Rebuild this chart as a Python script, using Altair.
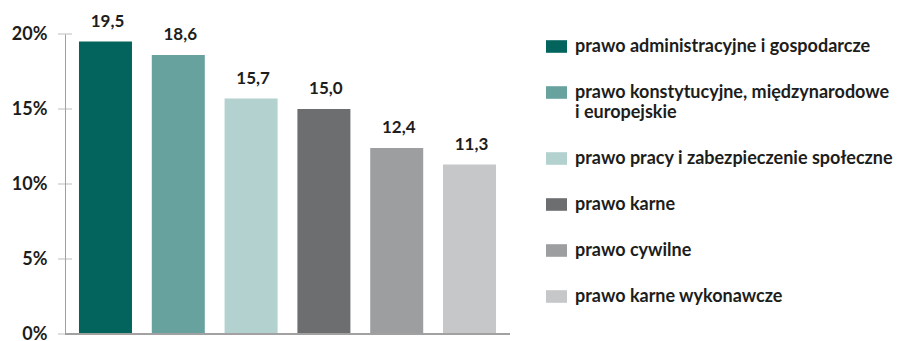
import altair as alt
import pandas as pd

categories = [
    "prawo administracyjne i gospodarcze",
    "prawo konstytucyjne, międzynarodowe i europejskie",
    "prawo pracy i zabezpieczenie społeczne",
    "prawo karne",
    "prawo cywilne",
    "prawo karne wykonawcze",
]
values = [19.5, 18.6, 15.7, 15.0, 12.4, 11.3]
value_labels = ["19,5", "18,6", "15,7", "15,0", "12,4", "11,3"]
colors = ["#02645D", "#67A29F", "#B3D1CF", "#6D6E70", "#9D9EA0", "#C6C7C9"]
y_ticks = [0, 5, 10, 15, 20]

df = pd.DataFrame({"kategoria": categories, "wartosc": values, "etykieta": value_labels})
ticks_df = pd.DataFrame({"t": y_ticks})

FONT = "Lato"
TXT = "#1d1d1b"
AXIS_GRAY = "#a0a0a0"

x_enc = alt.X(
    "kategoria:N",
    sort=categories,
    axis=None,
    scale=alt.Scale(paddingInner=0.272, paddingOuter=0.192),
)
y_scale = alt.Scale(domain=[0, 20], nice=False)

bars = alt.Chart(df).mark_bar().encode(
    x=x_enc,
    y=alt.Y(
        "wartosc:Q",
        scale=y_scale,
        axis=alt.Axis(
            values=y_ticks,
            labelExpr="datum.value + '%'",
            title=None,
            grid=False,
            domainColor=AXIS_GRAY,
            ticks=False,
            labelPadding=18,
            labelFont=FONT,
            labelFontWeight="bold",
            labelFontSize=18,
            labelColor=TXT,
        ),
    ),
    color=alt.Color(
        "kategoria:N",
        sort=categories,
        scale=alt.Scale(domain=categories, range=colors),
        legend=alt.Legend(
            title=None,
            orient="none",
            legendX=481,
            legendY=2,
            padding=0,
            symbolType="M-1,-0.6H1V0.6H-1Z",
            symbolSize=441,
            symbolStrokeWidth=0,
            labelOffset=8,
            labelFont=FONT,
            labelFontWeight="bold",
            labelFontSize=18,
            labelColor=TXT,
            labelLimit=400,
            rowPadding=26,
            labelExpr="datum.label == 'prawo konstytucyjne, międzynarodowe i europejskie' ? ['prawo konstytucyjne, międzynarodowe', 'i europejskie'] : datum.label",
        ),
    ),
)

labels = alt.Chart(df).mark_text(
    baseline="bottom",
    dy=-11,
    dx=2,
    font=FONT,
    fontWeight="bold",
    fontSize=17,
    color=TXT,
).encode(
    x=x_enc,
    y=alt.Y("wartosc:Q", scale=y_scale),
    text="etykieta:N",
)

ticks = alt.Chart(ticks_df).mark_tick(
    orient="horizontal", size=14, thickness=1, color=AXIS_GRAY
).encode(
    x=alt.value(0),
    y=alt.Y("t:Q", scale=y_scale),
)

xline = alt.Chart(df).mark_rule(color=AXIS_GRAY).encode(
    x=alt.value(0), x2=alt.value(445), y=alt.value(300)
)

chart = (
    alt.layer(bars, labels, ticks, xline)
    .properties(
        width=445,
        height=300,
        autosize=alt.AutoSizeParams(type="none"),
        padding={"left": 57, "top": 26, "right": 389, "bottom": 7},
    )
    .configure_view(stroke=None)
)

chart.save("out.html", embed_options={"renderer": "svg", "actions": False})
